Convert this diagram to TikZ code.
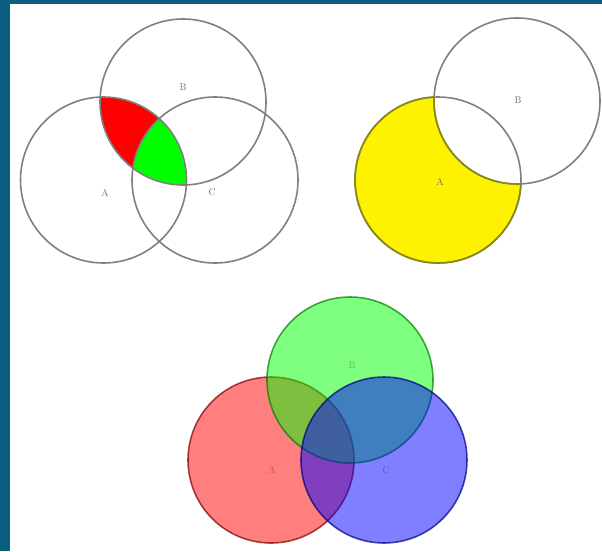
\documentclass[tikz,border=0pt]{standalone}
\usepackage{tikz}
\definecolor{framecol}{HTML}{0B5E80}
\definecolor{olivecol}{HTML}{8A8A10}

\begin{document}
\begin{tikzpicture}[
  x=0.5mm, y=-0.5mm,
  ring/.style={draw=gray, line width=0.8mm},
  lbl/.style={text=black!60, font=\fontsize{14}{14}\selectfont},
  setfill/.style={fill=#1, fill opacity=0.5, draw=#1!50!black, draw opacity=0.7, line width=0.8mm},
  setlbl/.style={text=black, text opacity=0.3, font=\fontsize{14}{14}\selectfont},
]
\def\r{83}
\useasboundingbox (0,0) rectangle (602,551);
\fill[framecol] (0,0) rectangle (602,551);
\fill[white] (10,4) rectangle (602,551);

% A and B without C (red), A, B and C (green)
\coordinate (a1) at (103.5,180);
\coordinate (b1) at (183,102);
\coordinate (c1) at (215,180);
\begin{scope}
  \clip (a1) circle[radius=\r];
  \clip (b1) circle[radius=\r];
  \fill[red] (a1) circle[radius=\r];
  \fill[green] (c1) circle[radius=\r];
\end{scope}
\foreach \c in {a1,b1,c1}
  \draw[ring] (\c) circle[radius=\r];
\node[lbl] (la1) at (105,193) {A};
\node[lbl] (lb1) at (183,87) {B};
\node[lbl] (lc1) at (212,192) {C};

% A without B
\coordinate (a2) at (438,180);
\coordinate (b2) at (517,101);
\fill[yellow] (a2) circle[radius=\r];
\fill[white] (b2) circle[radius=\r];
\foreach \c in {a2,b2}
  \draw[ring] (\c) circle[radius=\r];
\begin{scope}[even odd rule]
  \clip (0,0) rectangle (602,551) (b2) circle[radius=\r];
  \draw[ring, draw=olivecol] (a2) circle[radius=\r];
\end{scope}
\begin{scope}
  \clip (a2) circle[radius=\r];
  \draw[ring, draw=olivecol] (b2) circle[radius=\r];
\end{scope}
\node[lbl] (la2) at (440,182) {A};
\node[lbl] (lb2) at (518,100) {B};

% three sets, transparent
\coordinate (r3) at (271,460);
\coordinate (g3) at (350,380);
\coordinate (b3) at (384,460);
\draw[setfill=red] (r3) circle[radius=\r];
\draw[setfill=green] (g3) circle[radius=\r];
\draw[setfill=blue] (b3) circle[radius=\r];
\node[setlbl] (lr3) at (272,470) {A};
\node[setlbl] (lg3) at (352,365) {B};
\node[setlbl] (lb3) at (386,470) {C};
\end{tikzpicture}
\end{document}
